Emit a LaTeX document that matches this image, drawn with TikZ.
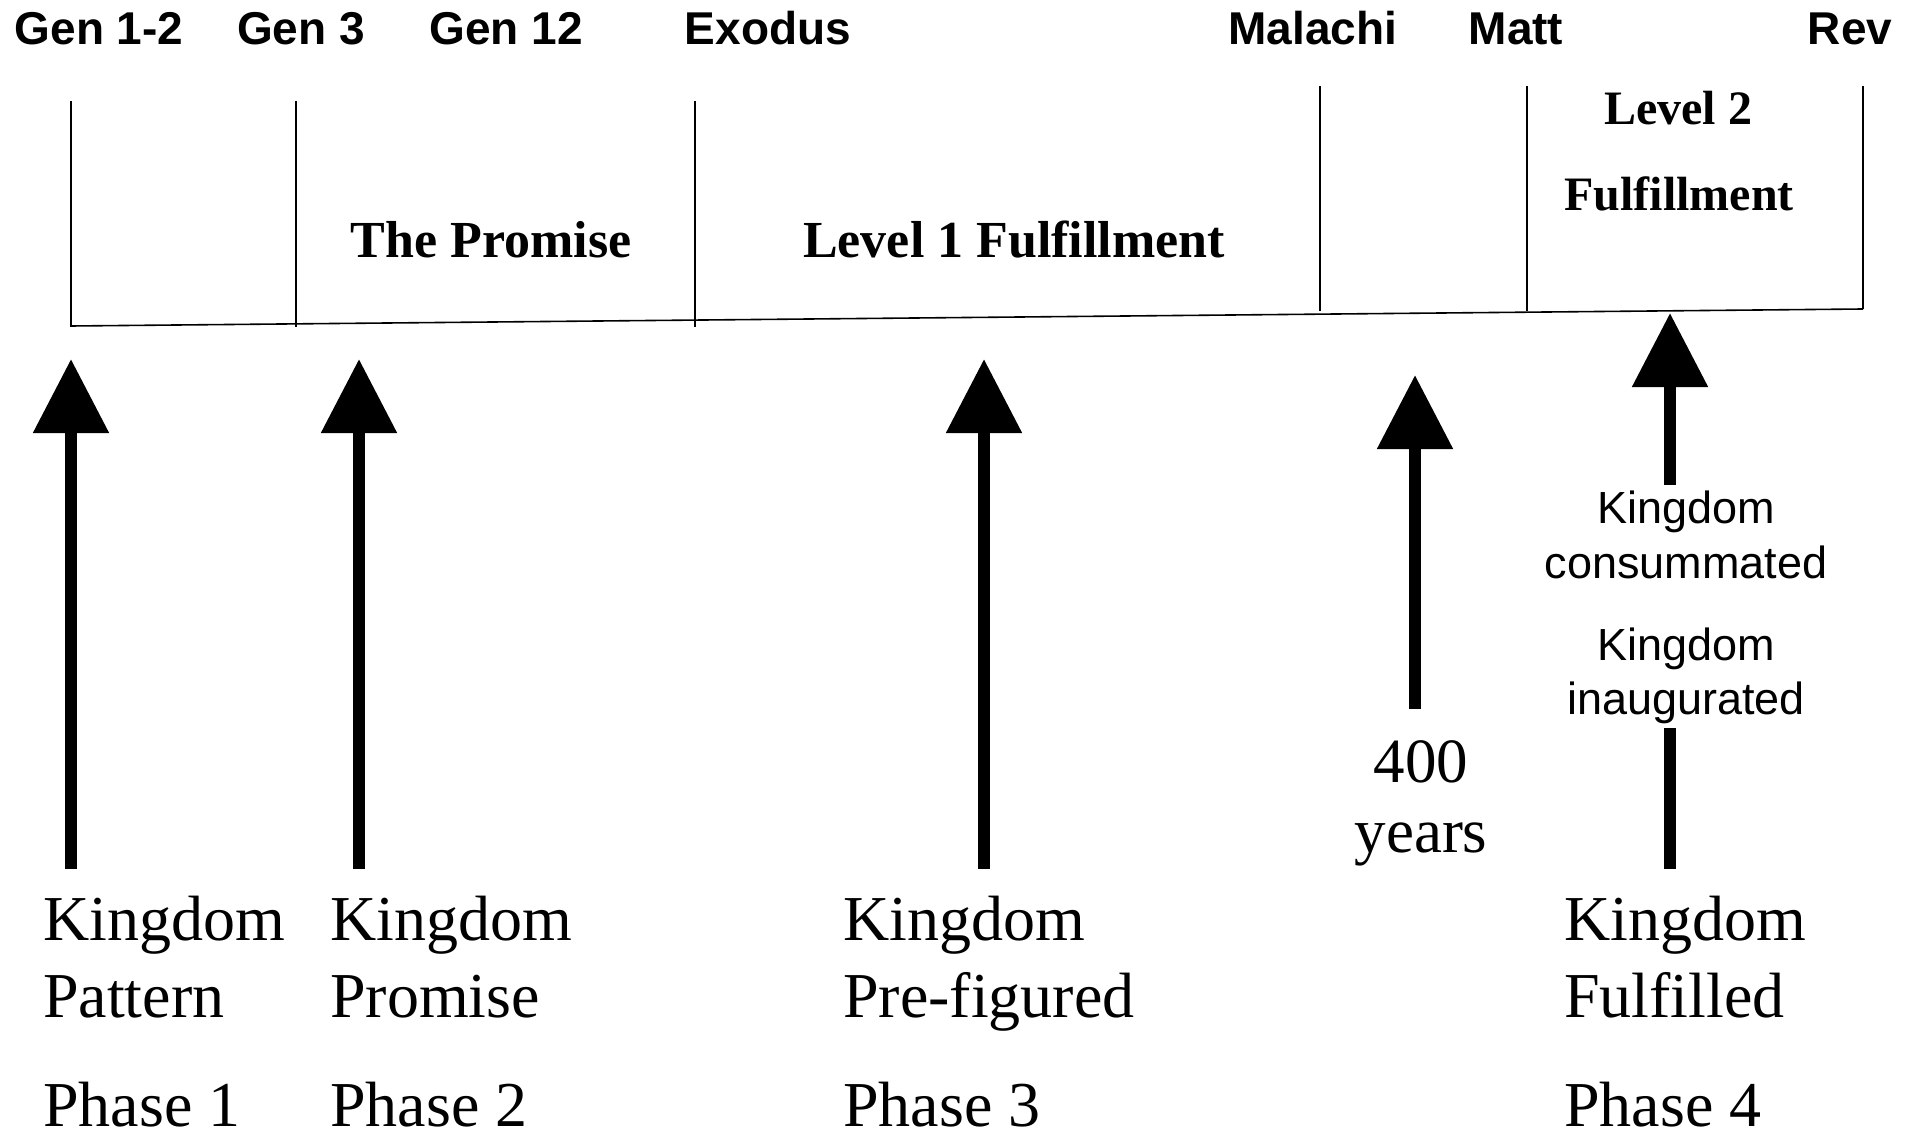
\documentclass[tikz,border=0pt]{standalone}
\usepackage{fontspec}
\setmainfont{Liberation Serif}
\newfontfamily\arialf{Liberation Sans}
\usetikzlibrary{arrows.meta}
\begin{document}
\begin{tikzpicture}[x=1pt,y=-1pt,
  toplbl/.style={font=\arialf\bfseries\fontsize{46}{50}\selectfont, anchor=base, inner sep=0pt},
  boxlbl/.style={font=\bfseries\fontsize{52}{60}\selectfont, anchor=base, inner sep=0pt},
  boxlbls/.style={font=\bfseries\fontsize{48}{56}\selectfont, anchor=base, inner sep=0pt},
  sidelbl/.style={font=\arialf\fontsize{45}{54}\selectfont, anchor=base, inner sep=0pt},
  bigtxt/.style={font=\fontsize{64}{77}\selectfont, anchor=base west, inner sep=0pt},
  midtxt/.style={font=\fontsize{63}{76}\selectfont, anchor=base, inner sep=0pt},
  tline/.style={line width=1.6pt},
  bigarrow/.style={line width=12pt, -{Triangle[width=73pt,length=74pt]}},
  bigshaft/.style={line width=12pt}]
\useasboundingbox (0,0) rectangle (1916,1139);

% top labels
\node[toplbl] (g12) at (99,45) {Gen 1-2};
\node[toplbl] (g3) at (301,45) {Gen 3};
\node[toplbl] (g12b) at (506,45) {Gen 12};
\node[toplbl] (exo) at (768,45) {Exodus};
\node[toplbl] (mal) at (1313,45) {Malachi};
\node[toplbl] (mat) at (1516,45) {Matt};
\node[toplbl] (rev) at (1850,45) {Rev};

% timeline
\coordinate (bl) at (71,326);
\coordinate (br) at (1863,309);
\draw[tline] (bl) -- (br);
\coordinate (t1a) at (71,101);   \coordinate (t1b) at (71,327);
\coordinate (t2a) at (296,101);  \coordinate (t2b) at (296,327);
\coordinate (t3a) at (695,101);  \coordinate (t3b) at (695,327);
\coordinate (t4a) at (1320,86);  \coordinate (t4b) at (1320,311);
\coordinate (t5a) at (1527,86);  \coordinate (t5b) at (1527,311);
\coordinate (t6a) at (1863,86);  \coordinate (t6b) at (1863,309);
\draw[tline] (t1a) -- (t1b);
\draw[tline] (t2a) -- (t2b);
\draw[tline] (t3a) -- (t3b);
\draw[tline] (t4a) -- (t4b);
\draw[tline] (t5a) -- (t5b);
\draw[tline] (t6a) -- (t6b);

% period labels
\node[boxlbl] (prom) at (491,258) {The Promise};
\node[boxlbl] (lev1) at (1014,258) {Level 1 Fulfillment};
\node[boxlbls] (lev2) at (1678,125) {Level 2};
\node[boxlbls] (ful2) at (1679,211) {Fulfillment};

% arrows
\coordinate (a1b) at (71,869);   \coordinate (a1t) at (71,359);
\coordinate (a2b) at (359,869);  \coordinate (a2t) at (359,359);
\coordinate (a3b) at (984,869);  \coordinate (a3t) at (984,359);
\coordinate (a4b) at (1415,709); \coordinate (a4t) at (1415,375);
\coordinate (a5b) at (1670,485); \coordinate (a5t) at (1670,313);
\coordinate (a6b) at (1670,869); \coordinate (a6t) at (1670,728);
\draw[bigarrow] (a1b) -- (a1t);
\draw[bigarrow] (a2b) -- (a2t);
\draw[bigarrow] (a3b) -- (a3t);
\draw[bigarrow] (a4b) -- (a4t);
\draw[bigarrow] (a5b) -- (a5t);
\draw[bigshaft] (a6b) -- (a6t);

% side labels
\node[sidelbl] (kc1) at (1686,523) {Kingdom};
\node[sidelbl] (kc2) at (1686,578) {consummated};
\node[sidelbl] (ki1) at (1686,660) {Kingdom};
\node[sidelbl] (ki2) at (1686,714) {inaugurated};
\node[midtxt] (y1) at (1421,782) {400};
\node[midtxt] (y2) at (1421,852) {years};

% bottom labels
\node[bigtxt] (k1) at (43,940) {Kingdom};
\node[bigtxt] (p1) at (43,1017) {Pattern};
\node[bigtxt] (ph1) at (43,1126) {Phase 1};
\node[bigtxt] (k2) at (330,940) {Kingdom};
\node[bigtxt] (p2) at (330,1017) {Promise};
\node[bigtxt] (ph2) at (330,1126) {Phase 2};
\node[bigtxt] (k3) at (843,940) {Kingdom};
\node[bigtxt] (p3) at (843,1017) {Pre-figured};
\node[bigtxt] (ph3) at (843,1126) {Phase 3};
\node[bigtxt] (k4) at (1564,940) {Kingdom};
\node[bigtxt] (p4) at (1564,1017) {Fulfilled};
\node[bigtxt] (ph4) at (1564,1126) {Phase 4};
\end{tikzpicture}
\end{document}
